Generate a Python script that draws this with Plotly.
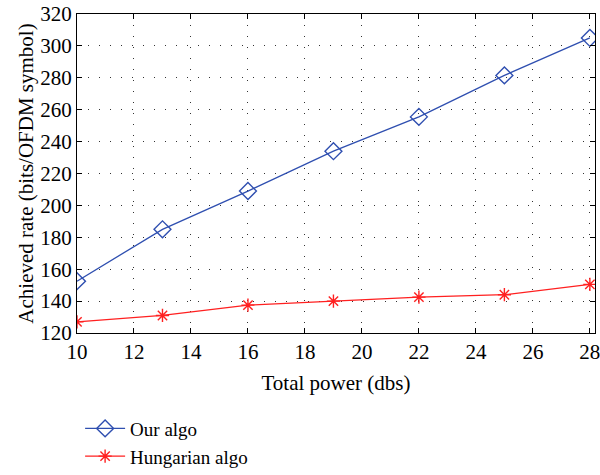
import plotly.graph_objects as go

power = [10, 13, 16, 19, 22, 25, 28]
our_algo = [152.5, 185, 209, 234, 255.5, 281.5, 305]
hungarian_algo = [127, 131, 137.5, 140, 142.5, 144, 150.5]

x_ticks = [10, 12, 14, 16, 18, 20, 22, 24, 26, 28]
y_ticks = [120, 140, 160, 180, 200, 220, 240, 260, 280, 300, 320]

FONT = "Liberation Serif"
BLUE = "#2f4fb0"
RED = "#ff2020"
FS = 21

fig = go.Figure()
fig.add_trace(go.Scatter(
    x=power, y=our_algo, mode="lines+markers", name="Our algo",
    line=dict(color=BLUE, width=1.3),
    marker=dict(symbol="diamond-open", size=13, color=BLUE, line=dict(width=1.4, color=BLUE)),
))
fig.add_trace(go.Scatter(
    x=power, y=hungarian_algo, mode="lines+markers", name="Hungarian algo",
    line=dict(color=RED, width=1.3),
    marker=dict(symbol="asterisk-open", size=11, color=RED, line=dict(width=1.4, color=RED)),
))

axis_common = dict(
    showline=True, linecolor="black", linewidth=1.2, mirror="ticks",
    ticks="inside", ticklen=5, tickcolor="black", tickwidth=1,
    showgrid=True, gridcolor="#333333", gridwidth=1, griddash="1px,10px",
    zeroline=False, tickfont=dict(family=FONT, size=FS, color="black"),
    automargin=False, ticklabeloverflow="allow",
)

fig.update_xaxes(
    range=[10, 28.18], tickvals=x_ticks,
    title=dict(text="Total power (dbs)", font=dict(family=FONT, size=FS, color="black"), standoff=12),
    **axis_common,
)
fig.update_yaxes(
    range=[120, 320], tickvals=y_ticks,
    title=dict(text="Achieved rate (bits/OFDM symbol)", font=dict(family=FONT, size=FS, color="black"), standoff=0),
    **axis_common,
)

fig.update_layout(
    width=600, height=475,
    margin=dict(l=77, r=5, t=14, b=142, autoexpand=False),
    plot_bgcolor="white", paper_bgcolor="white",
    font=dict(family=FONT, size=FS, color="black"),
    legend=dict(
        x=0.006, y=-0.24, xanchor="left", yanchor="top",
        font=dict(family=FONT, size=19, color="black"),
        bgcolor="rgba(0,0,0,0)", tracegroupgap=0, itemwidth=40,
    ),
    showlegend=True,
)

fig.write_html("out.html")
